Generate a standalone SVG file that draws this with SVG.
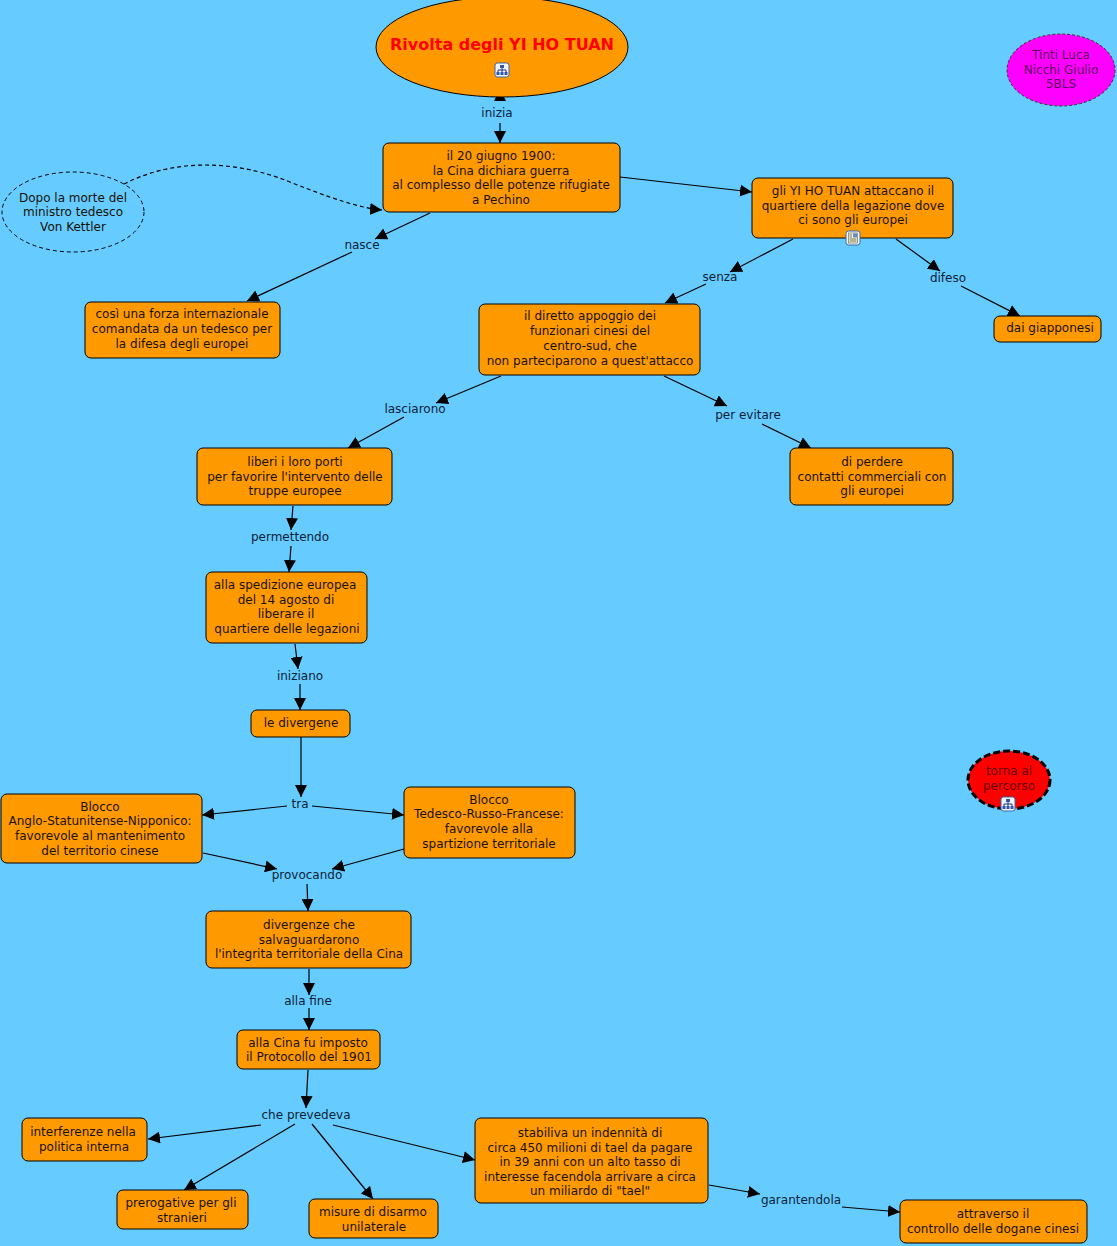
<svg xmlns="http://www.w3.org/2000/svg" width="1117" height="1246" viewBox="0 0 1117 1246">
<style>
.bg{fill:#66CCFF}
.n{fill:#FF9900;stroke:#000;stroke-width:1}
.t{font-family:"DejaVu Sans",Verdana,sans-serif;font-size:12px;fill:#1a1208;text-anchor:middle}
.l{font-family:"DejaVu Sans",Verdana,sans-serif;font-size:12px;fill:#0d2238;text-anchor:middle}
.c{stroke:#000;stroke-width:1.2;fill:none;marker-end:url(#ah)}
.ic{fill:#eef6ff;stroke:#3a66b0;stroke-width:1}
.ig{stroke:#223388;stroke-width:1;fill:none}
</style>
<defs>
<marker id="ah" markerUnits="userSpaceOnUse" markerWidth="12" markerHeight="12" viewBox="0 0 12 12" refX="12" refY="6" orient="auto">
<path d="M0,0 L12,6 L0,12 z" fill="#000"/>
</marker>
<g id="mapicon">
<rect class="ic" x="-7" y="-7" width="14" height="14" rx="2.5"/>
<rect x="-2" y="-5" width="4" height="3" fill="#3355aa"/>
<path class="ig" d="M0,-2 V0 M-4,0 H4 M-4,0 V2 M4,0 V2 M0,0 V2"/>
<rect x="-5.5" y="2" width="3" height="3" fill="#3355aa"/>
<rect x="-1.5" y="2" width="3" height="3" fill="#3355aa"/>
<rect x="2.5" y="2" width="3" height="3" fill="#3355aa"/>
</g>
<g id="docicon">
<rect class="ic" x="-7" y="-7" width="14" height="14" rx="2.5"/>
<rect x="-4.5" y="-5" width="9" height="10" fill="#ffffcc" stroke="#555" stroke-width="0.6"/>
<rect x="0" y="-4.5" width="4" height="4" fill="#6688cc"/>
<path d="M-3.5,-3 H-1 M-3.5,-1 H-1 M-3.5,1 H3.5 M-3.5,3 H3.5" stroke="#444" stroke-width="0.8"/>
</g>
</defs>
<rect class="bg" x="0" y="0" width="1117" height="1246"/>

<g id="connectors">
<path class="c" d="M500,101 L500,89"/>
<path class="c" d="M500,123 L500,143"/>
<path class="c" d="M620,177 L752,192"/>
<path d="M124,184 C175,158 235,160 290,182 C330,198 360,208 382,210" stroke="#000" stroke-width="1.2" fill="none" stroke-dasharray="4,3" marker-end="url(#ah)"/>
<path class="c" d="M430,213 L375,239"/>
<path class="c" d="M352,252 L247,301"/>
<path class="c" d="M793,239 L730,272"/>
<path class="c" d="M706,284 L665,303"/>
<path class="c" d="M896,239 L940,271"/>
<path class="c" d="M961,286 L1020,316"/>
<path class="c" d="M501,376 L436,403"/>
<path class="c" d="M404,417 L348,448"/>
<path class="c" d="M664,376 L727,406"/>
<path class="c" d="M762,424 L811,448"/>
<path class="c" d="M293,506 L291,530"/>
<path class="c" d="M291,546 L289,572"/>
<path class="c" d="M295,644 L298,669"/>
<path class="c" d="M300,684 L300,710"/>
<path class="c" d="M301,737 L301,797"/>
<path class="c" d="M287,806 L202,815"/>
<path class="c" d="M312,806 L404,815"/>
<path class="c" d="M203,853 L277,869"/>
<path class="c" d="M404,849 L332,869"/>
<path class="c" d="M307,884 L308,911"/>
<path class="c" d="M309,969 L309,995"/>
<path class="c" d="M309,1008 L309,1030"/>
<path class="c" d="M308,1070 L306,1108"/>
<path class="c" d="M261,1125 L148,1139"/>
<path class="c" d="M295,1124 L184,1190"/>
<path class="c" d="M312,1124 L373,1199"/>
<path class="c" d="M333,1125 L475,1160"/>
<path class="c" d="M709,1185 L760,1194"/>
<path class="c" d="M842,1207 L900,1212"/>
</g>

<g id="labels">
<text class="l" x="497" y="117">inizia</text>
<text class="l" x="362" y="249">nasce</text>
<text class="l" x="720" y="281">senza</text>
<text class="l" x="948" y="282">difeso</text>
<text class="l" x="415" y="413">lasciarono</text>
<text class="l" x="748" y="419">per evitare</text>
<text class="l" x="290" y="541">permettendo</text>
<text class="l" x="300" y="680">iniziano</text>
<text class="l" x="300" y="808">tra</text>
<text class="l" x="307" y="879">provocando</text>
<text class="l" x="308" y="1005">alla fine</text>
<text class="l" x="306" y="1119">che prevedeva</text>
<text class="l" x="801" y="1204">garantendola</text>
</g>

<g id="n-title">
<ellipse cx="502" cy="47" rx="126" ry="50" fill="#FF9900" stroke="#000" stroke-width="1"/>
<text x="502" y="50" font-family="'DejaVu Sans',Verdana,sans-serif" font-size="16" font-weight="bold" fill="#FF0000" text-anchor="middle">Rivolta degli YI HO TUAN</text>
<use href="#mapicon" x="502" y="70"/>
</g>

<g id="n-20giugno">
<rect class="n" x="383" y="143" width="237" height="69" rx="6"/>
<text class="t" x="501" y="160">il 20 giugno 1900:</text>
<text class="t" x="501" y="175">la Cina dichiara guerra</text>
<text class="t" x="501" y="189">al complesso delle potenze rifugiate</text>
<text class="t" x="501" y="204">a Pechino</text>
</g>

<g id="n-dopo">
<ellipse cx="73" cy="212" rx="71" ry="40" fill="none" stroke="#000" stroke-width="1" stroke-dasharray="4,3"/>
<text class="t" x="73" y="202">Dopo la morte del</text>
<text class="t" x="73" y="216">ministro tedesco</text>
<text class="t" x="73" y="231">Von Kettler</text>
</g>

<g id="n-attaccano">
<rect class="n" x="752" y="178" width="201" height="60" rx="6"/>
<text class="t" x="853" y="195">gli YI HO TUAN attaccano il</text>
<text class="t" x="853" y="210">quartiere della legazione dove</text>
<text class="t" x="853" y="224">ci sono gli europei</text>
<use href="#docicon" x="853" y="238"/>
</g>

<g id="n-forza">
<rect class="n" x="85" y="302" width="195" height="56" rx="6"/>
<text class="t" x="182" y="318">così una forza internazionale</text>
<text class="t" x="182" y="333">comandata da un tedesco per</text>
<text class="t" x="182" y="348">la difesa degli europei</text>
</g>

<g id="n-appoggio">
<rect class="n" x="479" y="304" width="221" height="71" rx="6"/>
<text class="t" x="590" y="320">il diretto appoggio dei</text>
<text class="t" x="590" y="335">funzionari cinesi del</text>
<text class="t" x="590" y="350">centro-sud, che</text>
<text class="t" x="590" y="365">non parteciparono a quest'attacco</text>
</g>

<g id="n-giapponesi">
<rect class="n" x="994" y="316" width="107" height="26" rx="6"/>
<text class="t" x="1050" y="332">dai giapponesi</text>
</g>

<g id="n-porti">
<rect class="n" x="197" y="448" width="195" height="57" rx="6"/>
<text class="t" x="295" y="466">liberi i loro porti</text>
<text class="t" x="295" y="481">per favorire l'intervento delle</text>
<text class="t" x="295" y="495">truppe europee</text>
</g>

<g id="n-perdere">
<rect class="n" x="790" y="448" width="163" height="57" rx="6"/>
<text class="t" x="872" y="466">di perdere</text>
<text class="t" x="872" y="481">contatti commerciali con</text>
<text class="t" x="872" y="495">gli europei</text>
</g>

<g id="n-spedizione">
<rect class="n" x="206" y="572" width="161" height="71" rx="6"/>
<text class="t" x="285" y="589">alla spedizione europea</text>
<text class="t" x="286" y="604">del 14 agosto di</text>
<text class="t" x="286" y="618">liberare il</text>
<text class="t" x="287" y="633">quartiere delle legazioni</text>
</g>

<g id="n-divergene">
<rect class="n" x="251" y="710" width="99" height="27" rx="6"/>
<text class="t" x="301" y="727">le divergene</text>
</g>

<g id="n-anglo">
<rect class="n" x="1" y="794" width="201" height="69" rx="6"/>
<text class="t" x="100" y="811">Blocco</text>
<text class="t" x="100" y="825">Anglo-Statunitense-Nipponico:</text>
<text class="t" x="100" y="840">favorevole al mantenimento</text>
<text class="t" x="100" y="855">del territorio cinese</text>
</g>

<g id="n-tedesco">
<rect class="n" x="404" y="787" width="171" height="71" rx="6"/>
<text class="t" x="489" y="804">Blocco</text>
<text class="t" x="489" y="818">Tedesco-Russo-Francese:</text>
<text class="t" x="489" y="833">favorevole alla</text>
<text class="t" x="489" y="848">spartizione territoriale</text>
</g>

<g id="n-salvaguardarono">
<rect class="n" x="206" y="911" width="205" height="57" rx="6"/>
<text class="t" x="309" y="929">divergenze che</text>
<text class="t" x="309" y="944">salvaguardarono</text>
<text class="t" x="309" y="958">l'integrita territoriale della Cina</text>
</g>

<g id="n-protocollo">
<rect class="n" x="237" y="1030" width="143" height="39" rx="6"/>
<text class="t" x="308" y="1047">alla Cina fu imposto</text>
<text class="t" x="309" y="1061">il Protocollo del 1901</text>
</g>

<g id="n-interferenze">
<rect class="n" x="22" y="1118" width="125" height="43" rx="6"/>
<text class="t" x="83" y="1136">interferenze nella</text>
<text class="t" x="84" y="1151">politica interna</text>
</g>

<g id="n-prerogative">
<rect class="n" x="117" y="1190" width="131" height="39" rx="6"/>
<text class="t" x="181" y="1207">prerogative per gli</text>
<text class="t" x="182" y="1222">stranieri</text>
</g>

<g id="n-disarmo">
<rect class="n" x="309" y="1199" width="129" height="39" rx="6"/>
<text class="t" x="373" y="1216">misure di disarmo</text>
<text class="t" x="374" y="1231">unilaterale</text>
</g>

<g id="n-indennita">
<rect class="n" x="475" y="1118" width="233" height="85" rx="6"/>
<text class="t" x="590" y="1137">stabiliva un indennità di</text>
<text class="t" x="590" y="1152">circa 450 milioni di tael da pagare</text>
<text class="t" x="590" y="1166">in 39 anni con un alto tasso di</text>
<text class="t" x="590" y="1181">interesse facendola arrivare a circa</text>
<text class="t" x="590" y="1195">un miliardo di "tael"</text>
</g>

<g id="n-dogane">
<rect class="n" x="900" y="1200" width="187" height="43" rx="6"/>
<text class="t" x="993" y="1218">attraverso il</text>
<text class="t" x="993" y="1233">controllo delle dogane cinesi</text>
</g>

<g id="n-autori">
<ellipse cx="1061" cy="70" rx="54" ry="36" fill="#FF00FF" stroke="#333" stroke-width="1" stroke-dasharray="3,2"/>
<text class="t" x="1061" y="59" style="fill:#5a0a5a">Tinti Luca</text>
<text class="t" x="1061" y="74" style="fill:#5a0a5a">Nicchi Giulio</text>
<text class="t" x="1061" y="88" style="fill:#5a0a5a">5BLS</text>
</g>

<g id="n-torna">
<ellipse cx="1009" cy="780" rx="41" ry="29" fill="#FF0000" stroke="#000" stroke-width="3" stroke-dasharray="7,3"/>
<text class="t" x="1009" y="775" style="fill:#660000">torna al</text>
<text class="t" x="1009" y="790" style="fill:#660000">percorso</text>
<use href="#mapicon" x="1008" y="804"/>
</g>
</svg>
